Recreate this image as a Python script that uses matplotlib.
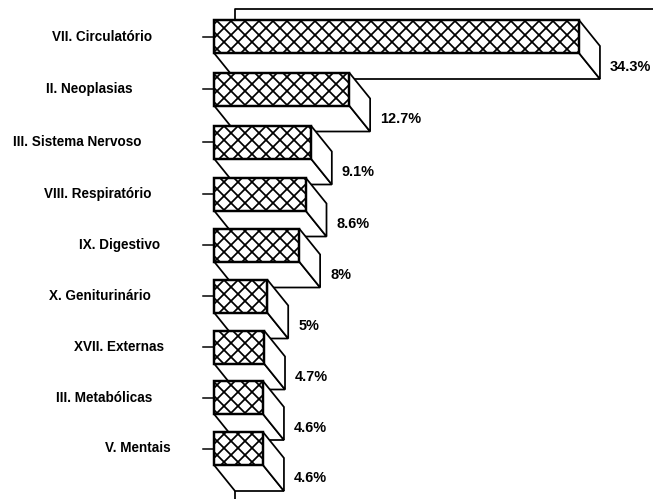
import matplotlib
matplotlib.use('Agg')
import matplotlib.pyplot as plt
from matplotlib.patches import Polygon, Rectangle

categories = ['VII. Circulatório', 'II. Neoplasias', 'III. Sistema Nervoso', 'VIII. Respiratório',
              'IX. Digestivo', 'X. Geniturinário', 'XVII. Externas', 'III. Metabólicas', 'V. Mentais']
values = [34.3, 12.7, 9.1, 8.6, 8, 5, 4.7, 4.6, 4.6]
value_labels = ['34.3%', '12.7%', '9.1%', '8.6%', '8%', '5%', '4.7%', '4.6%', '4.6%']

# layout, in pixels of the picture
row_y = [36.5, 89, 142, 194, 245, 296, 347, 397.5, 448.5]
label_right = [152, 132, 141, 151, 160, 151, 164, 152, 171]

W, H = 653, 499
DPI = 84  # hatch tile follows the dpi, this gives the right diamond size
X0 = 214  # pixel of value 0
XS = 10.64  # pixels per 1%
DX, DY = 21 / XS, 26  # depth of the 3d box
BH = 33  # bar height

plt.rcParams['font.family'] = ['Liberation Sans', 'DejaVu Sans']
plt.rcParams['hatch.linewidth'] = 1.5

fig = plt.figure(figsize=(W / DPI, H / DPI), dpi=DPI)
ax = fig.add_axes([0, 0, 1, 1])
ax.set_xlim(-X0 / XS, (W - X0) / XS)
ax.set_ylim(H, 0)
ax.axis('off')

lw = 1.5
top = row_y[0] - BH / 2
ax.plot([DX, DX, ax.get_xlim()[1]], [top, top - 11, top - 11], color='black', lw=lw)

for i, v in enumerate(values):
    y = row_y[i]
    t, b = y - BH / 2, y + BH / 2
    # floor
    ax.add_patch(Polygon([(0, b), (v, b), (v + DX, b + DY), (DX, b + DY)], fc='white', ec='black', lw=lw, zorder=2 + i))
    # side
    ax.add_patch(Polygon([(v, t), (v + DX, t + DY), (v + DX, b + DY), (v, b)], fc='white', ec='black', lw=lw, zorder=2 + i))
    # front
    ax.add_patch(Rectangle((0, t), v, BH, fc='white', ec='black', hatch='xx', lw=lw * 1.4, zorder=2 + i))
    # tick
    ax.plot([-11 / XS, 0], [y, y], color='black', lw=1.3, zorder=2 + i)
    ax.text((label_right[i] - X0) / XS, y, categories[i], ha='right', va='center', fontsize=11.6,
            fontweight='bold', color='black')
    ax.text(v + DX + 10 / XS, y + 30, value_labels[i], ha='left', va='center', fontsize=12.4,
            fontweight='bold', color='black')

last = row_y[-1] + BH / 2 + DY
ax.plot([DX, DX], [last, H], color='black', lw=lw)

fig.savefig('out.png', dpi=DPI, facecolor='white')
